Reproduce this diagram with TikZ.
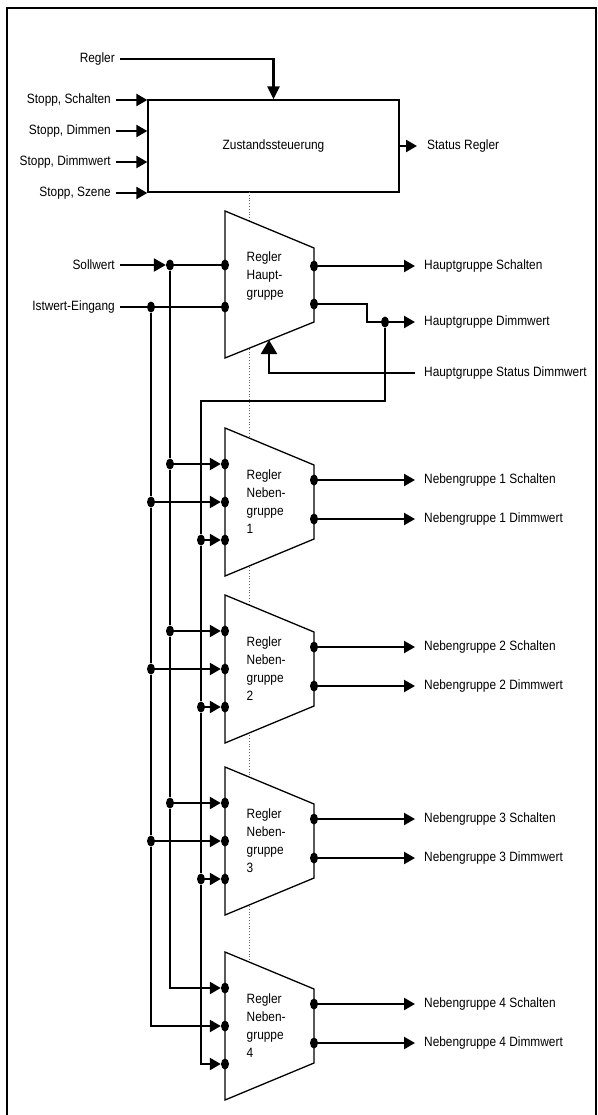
\documentclass[tikz,border=0pt]{standalone}
\usepackage{fontspec}
\setmainfont[FakeStretch=0.88]{Liberation Sans}
\usetikzlibrary{arrows.meta,positioning,calc,shapes.geometric}

\begin{document}
\begin{tikzpicture}[x=1pt,y=-1pt,
  every node/.style={font=\fontsize{13.5}{15}\selectfont},
  wire/.style={line width=2.3pt},
  thinwire/.style={line width=1.1pt},
  arr/.style={wire,-{Triangle[length=11pt,width=12pt]}},
  inarr/.style={wire,-{Triangle[length=11pt,width=12pt]}},
  dot/.style={ellipse,fill,inner sep=0pt,minimum width=8pt,minimum height=11pt},
  lab/.style={anchor=east,inner xsep=5pt,inner ysep=0pt},
  outlab/.style={anchor=west,inner xsep=9pt,inner ysep=0pt},
  blk/.style={draw,fill=white,line width=1.3pt},
  grp/.style={align=left,anchor=west,inner sep=0pt,font=\fontsize{13.5}{18}\selectfont}]
  \useasboundingbox (0,0) rectangle (597,1115);
  % frame
  \draw[line width=2.3pt] (7,1115) -- (7,8) -- (596,8) -- (596,1115);

  % Zustandssteuerung
  \node[draw,line width=1.3pt,minimum width=251pt,minimum height=92pt,inner sep=0pt] (zs) at (273.5,146) {Zustandssteuerung};
  \node[lab] (lregler) at (120,59) {Regler};
  \draw[wire,-{Triangle[length=13pt,width=12pt]}] (lregler) -| (zs.north);
  \foreach \i/\t/\y in {1/{Stopp, Schalten}/100,2/{Stopp, Dimmen}/131,3/{Stopp, Dimmwert}/162,4/{Stopp, Szene}/193}{
    \node[lab] (stopp\i) at (116,\y) {\t};
    \draw[arr] (stopp\i) -- (stopp\i -| zs.west);
  }
  \node[outlab,inner xsep=10pt] (sregler) at (417,146) {Status Regler};
  \draw[arr] (zs) -- (sregler);

  % dotted axis
  \coordinate (dtop) at (249,192);
  \coordinate (dbot) at (249,1000);
  \draw[dotted,black!60,line width=0.8pt] (dtop) -- (dbot);

  % Regler Hauptgruppe
  \draw[blk] (225,211) -- (314,248) -- (314,322) -- (225,358) -- cycle;
  \node[grp] (haupt) at (246.5,276) {Regler\\Haupt-\\gruppe};
  \node[dot] (hin1) at (225,265) {};
  \node[dot] (hin2) at (225,307) {};
  \node[dot] (hout1) at (314,266) {};
  \node[dot] (hout2) at (314,304) {};

  \node[lab] (lsoll) at (120,265) {Sollwert};
  \node[dot] (sbus) at (170,265) {};
  \draw[wire,-{Triangle[length=12pt,width=13pt]}] (lsoll) -- (sbus);
  \draw[thinwire] (sbus) -- (hin1);
  \node[lab] (list) at (120,307) {Istwert-Eingang};
  \node[dot] (ibus) at (151,307) {};
  \draw[wire] (list) -- (ibus);
  \draw[thinwire] (ibus) -- (hin2);

  \node[outlab] (hs) at (415,266) {Hauptgruppe Schalten};
  \draw[arr] (hout1) -- (hs);
  \node[outlab] (hd) at (415,322) {Hauptgruppe Dimmwert};
  \node[dot] (hdot) at (385,322) {};
  \coordinate (hknick) at (367,304);
  \draw[wire] (hout2) -- (hknick) |- (hdot);
  \draw[arr] (hdot) -- (hd);
  \node[outlab] (hsd) at (415,373) {Hauptgruppe Status Dimmwert};
  \coordinate (hfb) at (269,340);
  \draw[wire,-{Triangle[length=14pt,width=16pt]}] (hsd.west) -| (hfb);

  % Regler Nebengruppen
  \foreach \n/\t in {1/428,2/595,3/767,4/952}{
    \draw[blk] (225,\t) -- (314,\t+37) -- (314,\t+111) -- (225,\t+148) -- cycle;
    \node[grp] (neben\n) at (246.5,\t+74) {Regler\\Neben-\\gruppe\\\n};
    \foreach \k/\d in {a/36,b/74,c/112}{\node[dot] (n\n\k) at (225,\t+\d) {};}
    \node[dot] (o\n a) at (314,\t+52) {};
    \node[dot] (o\n b) at (314,\t+91) {};
    \node[outlab] (ns\n) at (415,\t+52) {Nebengruppe \n\ Schalten};
    \node[outlab] (nd\n) at (415,\t+91) {Nebengruppe \n\ Dimmwert};
    \draw[arr] (o\n a) -- (ns\n);
    \draw[arr] (o\n b) -- (nd\n);
  }
  \foreach \n/\t in {1/428,2/595,3/767}{
    \node[dot] (s\n) at (170,\t+36) {};
    \node[dot] (i\n) at (151,\t+74) {};
    \node[dot] (b\n) at (201,\t+112) {};
    \draw[inarr] (s\n) -- (n\n a);
    \draw[inarr] (i\n) -- (n\n b);
    \draw[inarr] (b\n) -- (n\n c);
  }
  % busses
  \coordinate (sknick) at (201,401);
  \draw[inarr] (sbus) -- (s1) -- (s2) -- (s3) |- (n4a);
  \draw[inarr] (ibus) -- (i1) -- (i2) -- (i3) |- (n4b);
  \draw[inarr] (hdot) |- (sknick) -- (b1) -- (b2) -- (b3) |- (n4c);
\end{tikzpicture}
\end{document}
